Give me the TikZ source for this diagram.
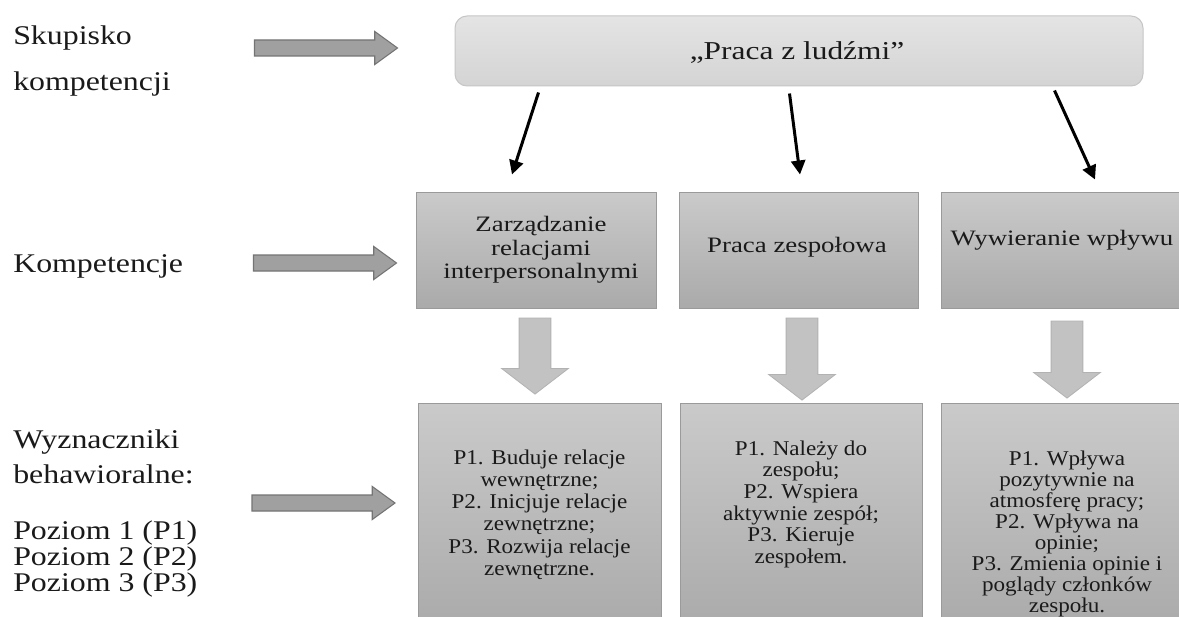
\documentclass[tikz,border=0pt]{standalone}
\usepackage{fontspec}
\setmainfont{Liberation Serif}
\newfontfamily\lblfont[FakeStretch=1.18]{Liberation Serif}
\newfontfamily\topfont[FakeStretch=1.22]{Liberation Serif}
\newfontfamily\midfont[FakeStretch=1.22]{Liberation Serif}
\newfontfamily\lowfont[FakeStretch=1.1]{Liberation Serif}
\usetikzlibrary{shapes.arrows,arrows.meta,calc,fit}

\definecolor{ink}{HTML}{1A1A1A}
\definecolor{toptop}{HTML}{E4E4E4}
\definecolor{topbot}{HTML}{D4D4D4}
\definecolor{topedge}{HTML}{C6C6C6}
\definecolor{boxtop}{HTML}{CACACA}
\definecolor{boxbot}{HTML}{AAAAAA}
\definecolor{boxedge}{HTML}{9A9A9A}
\definecolor{sidefill}{HTML}{A0A0A0}
\definecolor{sideedge}{HTML}{747474}
\definecolor{downfill}{HTML}{C2C2C2}
\definecolor{downedge}{HTML}{B2B2B2}

\begin{document}
\begin{tikzpicture}[x=0.75pt,y=-0.75pt,
  lbl/.style={font=\lblfont\fontsize{20.25pt}{24pt}\selectfont, text=ink, inner sep=0, anchor=base west},
  topbox/.style={draw=topedge, line width=0.75pt, rounded corners=9pt, top color=toptop, bottom color=topbot, inner sep=0},
  grbox/.style={draw=boxedge, line width=0.75pt, top color=boxtop, bottom color=boxbot, inner sep=0},
  midtxt/.style={font=\midfont\fontsize{16.5pt}{17.6pt}\selectfont, text=ink, align=center, inner sep=0},
  lowtxt/.style={font=\lowfont\fontsize{15.75pt}{16.4pt}\selectfont, text=ink, align=center, inner sep=0},
  sidearrow/.style={single arrow, draw=sideedge, fill=sidefill, line width=0.8pt,
    inner xsep=0pt, inner ysep=5.6pt,
    minimum height=107.25pt, minimum width=24pt, single arrow head extend=6.4pt, single arrow tip angle=72},
  downarrow/.style={single arrow, draw=downedge, fill=downfill, line width=0.6pt,
    rotate=-90, inner xsep=0pt, inner ysep=11.6pt,
    minimum width=49.5pt, single arrow head extend=13.1pt, single arrow tip angle=105},
  conn/.style={draw=black, line width=2.25pt, -{Triangle[length=10.5pt,width=10.5pt]}}
]
\useasboundingbox (0,0) rectangle (1179,617);
\clip (0,0) rectangle (1179,617);
\fill[white] (0,0) rectangle (1179,617);

% level labels on the left
\node[lbl] (l1a) at (13,45) {Skupisko};
\node[lbl] (l1b) at (13,91) {kompetencji};
\node[lbl] (l2) at (13,272) {Kompetencje};
\node[lbl] (l3a) at (13,448) {Wyznaczniki};
\node[lbl] (l3b) at (13,483) {behawioralne:};
\node[lbl] (l3c) at (13,539) {Poziom 1 (P1)};
\node[lbl] (l3d) at (13,565) {Poziom 2 (P2)};
\node[lbl] (l3e) at (13,591) {Poziom 3 (P3)};

% pointers from the labels to the rows
\node[sidearrow] (sa1) at (320.5,48) {};
\node[sidearrow] (sa2) at (319.5,263) {};
\node[sidearrow] (sa3) at (318,503) {};

% competence cluster
\node[topbox, fit={(455,16) (1143,86)}] (top) {};
\node[font=\topfont\fontsize{19.3pt}{22pt}\selectfont, text=ink, inner sep=0, anchor=base] (toptxt) at (797,60) {„Praca z ludźmi”};

% competences
\node[grbox, fit={(416,192) (656,308)}] (m1) {};
\node[grbox, fit={(679,192) (918,308)}] (m2) {};
\node[grbox, fit={(941,192) (1190,308)}] (m3) {};
\node[midtxt] (m1t) at (541,250) {Zarządzanie\\relacjami\\interpersonalnymi};
\node[midtxt, anchor=base] (m2t) at (797,252) {Praca zespołowa};
\node[midtxt, anchor=base] (m3t) at (1062,245) {Wywieranie wpływu};

% connectors from the cluster to the competences
\draw[conn] ($(top.south west)+(84,6)$) -- ($(m1.north)+(-24,-17)$);
\draw[conn] ($(top.south west)+(335,7)$) -- ($(m2.north)+(1.5,-17)$);
\draw[conn] ($(top.south west)+(600,4)$) -- ($(m3.north)+(29.5,-12)$);

% arrows down to the behavioural indicators
\node[downarrow, minimum height=57pt] (d1) at (535,350) {};
\node[downarrow, minimum height=61.5pt] (d2) at (802,353) {};
\node[downarrow, minimum height=57.75pt] (d3) at (1067,353.5) {};

% behavioural indicators
\node[grbox, fit={(418,403) (661,630)}] (b1) {};
\node[grbox, fit={(680,403) (922,630)}] (b2) {};
\node[grbox, fit={(941,403) (1190,630)}] (b3) {};
\node[lowtxt, font=\lowfont\fontsize{15.75pt}{16.65pt}\selectfont] (b1t) at (539.5,514.5)
  {P1. Buduje relacje\\wewnętrzne;\\P2. Inicjuje relacje\\zewnętrzne;\\P3. Rozwija relacje\\zewnętrzne.};
\node[lowtxt, font=\lowfont\fontsize{15.75pt}{16.2pt}\selectfont] (b2t) at (801,504.2)
  {P1. Należy do\\zespołu;\\P2. Wspiera\\aktywnie zespół;\\P3. Kieruje\\zespołem.};
\node[lowtxt, font=\lowfont\fontsize{15.75pt}{15.75pt}\selectfont] (b3t) at (1067,533.7)
  {P1. Wpływa\\pozytywnie na\\atmosferę pracy;\\P2. Wpływa na\\opinie;\\P3. Zmienia opinie i\\poglądy członków\\zespołu.};
\end{tikzpicture}
\end{document}
